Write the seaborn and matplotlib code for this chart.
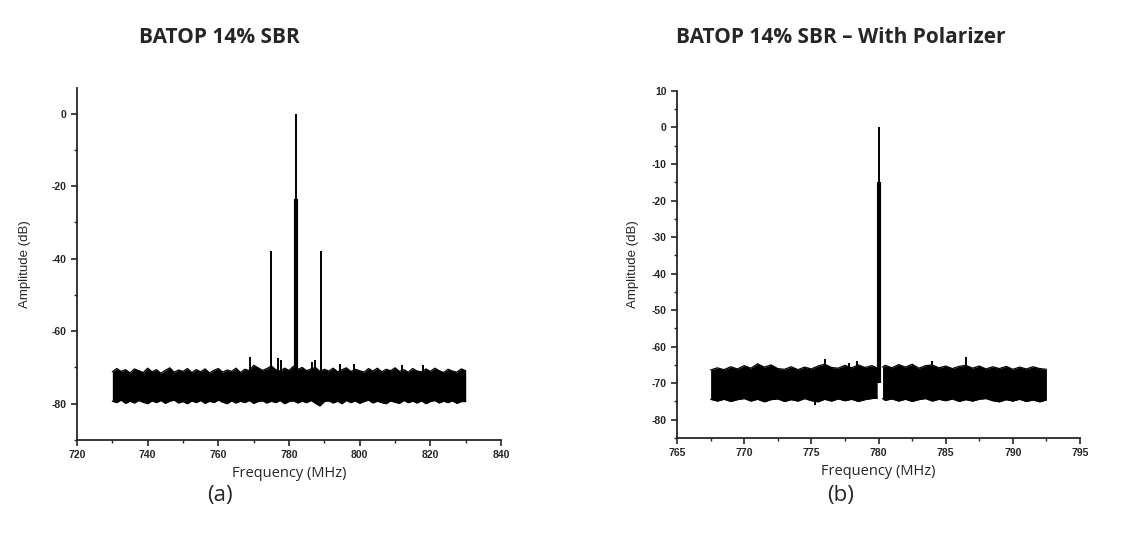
import numpy as np
import pandas as pd
import matplotlib
matplotlib.use("Agg")
import matplotlib.pyplot as plt
import seaborn as sns
from matplotlib.ticker import MultipleLocator

# ---- panel (a): BATOP 14% SBR ----
# noise floor envelope, read every 1.25 MHz from 730 to 830
a_freq = [730 + 1.25 * i for i in range(81)]
a_top = [-71.2, -70.3, -71.1, -70.6, -71.5, -70.4, -70.9, -71.4, -70.2, -71.2,
         -70.6, -71.6, -70.8, -70.1, -71.3, -70.7, -71.1, -70.3, -71.4, -70.6,
         -71.2, -70.4, -71.5, -70.8, -70.3, -71.3, -70.7, -71.1, -70.2, -71.4,
         -70.5, -70.9, -69.4, -70.1, -70.8, -70.3, -69.6, -70.6, -71.0, -70.2,
         -70.8, -69.7, -70.5, -70.0, -70.9, -70.4, -70.0, -71.1, -70.5, -71.0,
         -70.2, -71.2, -70.6, -70.1, -71.1, -70.5, -70.9, -71.3, -70.3, -71.0,
         -70.2, -71.2, -70.5, -70.9, -70.1, -71.1, -70.6, -71.3, -70.3, -71.0,
         -71.2, -70.4, -71.1, -70.2, -70.9, -71.4, -70.5, -71.0, -71.3, -70.4,
         -70.9]
a_bottom = [-79.3, -79.7, -79.0, -79.9, -79.3, -79.8, -79.1, -79.6, -80.0, -79.2,
            -79.7, -79.1, -79.9, -79.3, -79.0, -79.8, -79.4, -80.0, -79.2, -79.7,
            -79.1, -79.9, -79.3, -79.7, -79.0, -79.6, -80.0, -79.2, -79.8, -79.3,
            -79.7, -79.1, -79.9, -79.4, -79.2, -79.8, -79.3, -79.7, -79.1, -80.0,
            -79.4, -79.2, -79.8, -79.3, -79.7, -79.1, -79.9, -80.6, -79.4, -79.2,
            -79.8, -79.3, -80.0, -79.1, -79.7, -79.2, -79.9, -79.4, -79.0, -79.8,
            -79.3, -79.7, -80.0, -79.2, -79.6, -79.9, -79.1, -79.7, -79.3, -79.8,
            -79.2, -80.0, -79.4, -79.1, -79.8, -79.3, -79.7, -79.2, -79.9, -79.4,
            -79.4]
a_peak_freq = [775.0, 782.0, 789.0, 769.0, 777.0, 777.6, 786.6, 787.3, 794.5, 798.5, 812.0, 817.8]
a_peak_amp = [-38.0, 0.0, -38.0, -67.0, -67.3, -68.0, -68.6, -68.0, -69.0, -69.0, -69.3, -69.2]
a_wide_freq = [782.0]
a_wide_amp = [-23.5]

# ---- panel (b): BATOP 14% SBR - With Polarizer ----
b_lo_freq = [767.5, 768.0, 768.5, 769.0, 769.5, 770.0, 770.5, 771.0, 771.5, 772.0,
             772.5, 773.0, 773.5, 774.0, 774.5, 775.0, 775.5, 776.0, 776.5, 777.0,
             777.5, 778.0, 778.5, 779.0, 779.5, 779.9]
b_lo_top = [-66.4, -65.8, -66.3, -65.5, -66.1, -65.2, -65.9, -64.7, -65.6, -65.0,
            -66.0, -66.2, -65.5, -66.3, -65.6, -66.1, -65.3, -64.8, -65.7, -65.9,
            -65.1, -65.8, -65.0, -65.7, -65.2, -65.8]
b_lo_bottom = [-74.4, -74.9, -74.4, -75.0, -74.5, -74.2, -74.9, -74.4, -75.1, -74.5,
               -74.3, -75.0, -74.5, -74.9, -74.2, -74.8, -75.1, -74.4, -74.9, -74.3,
               -74.8, -74.4, -75.0, -74.5, -74.2, -74.1]
b_hi_freq = [780.3, 780.5, 781.0, 781.5, 782.0, 782.5, 783.0, 783.5, 784.0, 784.5,
             785.0, 785.5, 786.0, 786.5, 787.0, 787.5, 788.0, 788.5, 789.0, 789.5,
             790.0, 790.5, 791.0, 791.5, 792.0, 792.5]
b_hi_top = [-65.6, -65.1, -65.8, -64.9, -65.6, -64.8, -65.9, -65.2, -65.0, -65.8,
            -65.3, -66.0, -65.4, -65.1, -65.9, -65.3, -66.1, -65.5, -66.0, -65.4,
            -66.2, -65.6, -66.1, -65.5, -66.0, -66.2]
b_hi_bottom = [-74.2, -74.7, -74.3, -74.9, -74.4, -75.0, -74.5, -74.2, -74.9, -74.4,
               -74.8, -74.3, -75.0, -74.5, -74.9, -74.4, -74.2, -74.8, -75.1, -74.5,
               -74.9, -74.4, -75.0, -74.6, -75.1, -74.6]
b_peak_freq = [780.05, 776.0, 777.8, 778.4, 784.0, 786.5, 775.3]
b_peak_amp = [0.0, -63.5, -64.5, -63.8, -64.0, -62.7, -76.0]
b_wide_freq = [780.05]
b_wide_amp = [-15.0]

titles = ["BATOP 14% SBR", "BATOP 14% SBR \u2013 With Polarizer"]
panel_labels = ["(a)", "(b)"]

sns.set_style("ticks")
plt.rcParams['font.family'] = ['Liberation Sans', 'DejaVu Sans']
plt.rcParams['font.weight'] = 'bold'
plt.rcParams['axes.unicode_minus'] = False

fig = plt.figure(figsize=(11.39, 5.54), dpi=100)
ax_a = fig.add_axes([0.0676, 0.2058, 0.3723, 0.635])
ax_b = fig.add_axes([0.5944, 0.2094, 0.3538, 0.6264])


def draw_band(ax, freq, top, bottom):
    band = pd.DataFrame({'freq': freq, 'top': top, 'bottom': bottom})
    ax.fill_between(band['freq'], band['bottom'], band['top'], color='black', linewidth=0)
    sns.lineplot(data=band, x='freq', y='top', color='black', linewidth=0.9, ax=ax)
    sns.lineplot(data=band, x='freq', y='bottom', color='black', linewidth=0.9, ax=ax)


def draw_peaks(ax, peak_freq, peak_amp, wide_freq, wide_amp, base):
    ax.vlines(peak_freq, base, peak_amp, color='black', linewidth=1.4)
    ax.vlines(wide_freq, base, wide_amp, color='black', linewidth=3.0)


draw_band(ax_a, a_freq, a_top, a_bottom)
draw_peaks(ax_a, a_peak_freq, a_peak_amp, a_wide_freq, a_wide_amp, -72)
draw_band(ax_b, b_lo_freq, b_lo_top, b_lo_bottom)
draw_band(ax_b, b_hi_freq, b_hi_top, b_hi_bottom)
draw_peaks(ax_b, b_peak_freq, b_peak_amp, b_wide_freq, b_wide_amp, -70)

ax_a.set_xlim(720, 840)
ax_a.set_ylim(-90, 7)
ax_a.xaxis.set_major_locator(MultipleLocator(20))
ax_a.xaxis.set_minor_locator(MultipleLocator(10))
ax_a.yaxis.set_major_locator(MultipleLocator(20))
ax_a.yaxis.set_minor_locator(MultipleLocator(10))

ax_b.set_xlim(765, 795)
ax_b.set_ylim(-85, 10)
ax_b.xaxis.set_major_locator(MultipleLocator(5))
ax_b.xaxis.set_minor_locator(MultipleLocator(2.5))
ax_b.yaxis.set_major_locator(MultipleLocator(10))
ax_b.yaxis.set_minor_locator(MultipleLocator(5))

for ax, t, lab, xc, pad in zip([ax_a, ax_b], titles, panel_labels, [0.193, 0.738], [15, 9]):
    sns.despine(ax=ax)
    ax.spines['left'].set_linewidth(1.3)
    ax.spines['bottom'].set_linewidth(1.3)
    ax.tick_params(axis='both', which='major', direction='out', length=4, width=1.2,
                   labelsize=7.5)
    ax.tick_params(axis='both', which='minor', direction='out', length=2.5, width=1.0)
    ax.set_xlabel("Frequency (MHz)", fontsize=10.5, fontweight='normal',
                  family=['Open Sans', 'DejaVu Sans'])
    ax.set_ylabel("Amplitude (dB)", fontsize=9.5, fontweight='normal', labelpad=pad)
    fig.text(xc, 0.933, t, ha='center', va='center', fontsize=15,
             family=['Open Sans', 'DejaVu Sans'], fontweight='bold')
    fig.text(xc, 0.105, lab, ha='center', va='center', fontsize=16,
             family=['Open Sans', 'DejaVu Sans'], fontweight='normal')

fig.savefig("out.png", dpi=100)
